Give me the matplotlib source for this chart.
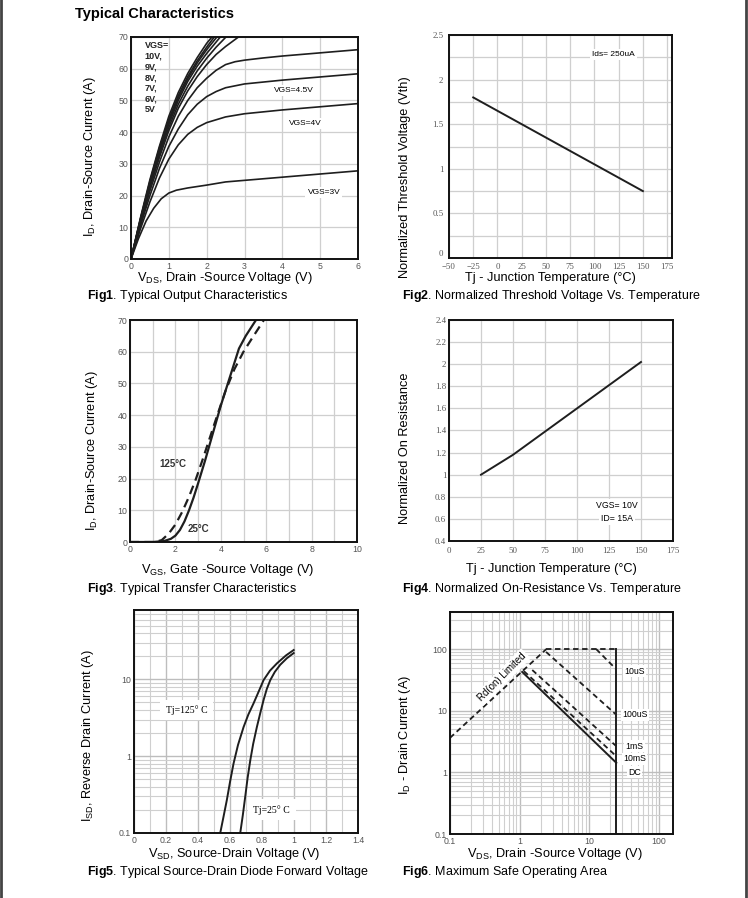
import numpy as np
import matplotlib
matplotlib.use("Agg")
import matplotlib.pyplot as plt
from matplotlib.ticker import MultipleLocator, NullFormatter, LogLocator

plt.rcParams['font.family'] = ['Liberation Sans', 'DejaVu Sans']
plt.rcParams['mathtext.fontset'] = 'custom'
plt.rcParams['mathtext.rm'] = 'Liberation Sans'
plt.rcParams['mathtext.bf'] = 'Liberation Sans:bold'

# ---- Fig1: output characteristics (VDS, ID) ----
vds_10v = [0, 0.25, 0.5, 0.75, 1.0, 1.25, 1.5, 1.75, 2.0, 2.14]
id_10v = [0, 13, 25, 35.5, 45, 52.5, 58.5, 63.5, 68, 70]
vds_9v = [0, 0.25, 0.5, 0.75, 1.0, 1.25, 1.5, 1.75, 2.0, 2.2]
id_9v = [0, 12.7, 24.5, 35, 44, 51.5, 57.5, 62.5, 66.8, 70]
vds_8v = [0, 0.25, 0.5, 0.75, 1.0, 1.25, 1.5, 1.75, 2.0, 2.27]
id_8v = [0, 12.5, 24, 34.3, 43.3, 50.8, 56.8, 61.8, 66, 70]
vds_7v = [0, 0.25, 0.5, 0.75, 1.0, 1.25, 1.5, 1.75, 2.0, 2.36]
id_7v = [0, 12.3, 23.5, 33.7, 42.5, 50, 56, 60.8, 64.8, 70]
vds_6v = [0, 0.25, 0.5, 0.75, 1.0, 1.25, 1.5, 1.75, 2.0, 2.25, 2.51]
id_6v = [0, 12, 23, 33, 41.5, 48.8, 54.5, 59.3, 63.3, 66.8, 70]
vds_5v = [0, 0.25, 0.5, 0.75, 1.0, 1.25, 1.5, 1.75, 2.0, 2.25, 2.5, 2.84]
id_5v = [0, 11.7, 22.5, 32, 40.5, 47.5, 53, 57.5, 61.3, 64.5, 67, 70]
vds_top = [0, 0.25, 0.5, 0.75, 1.0, 1.25, 1.5, 1.75, 2.0, 2.25, 2.5, 2.75, 3.0, 3.5, 4.0, 5.0, 6.0]
id_top = [0, 11, 21.5, 30.5, 38.5, 45, 50, 54, 57, 59.5, 61.3, 62.2, 62.7, 63.4, 64, 65, 66]
vds_45v = [0, 0.25, 0.5, 0.75, 1.0, 1.25, 1.5, 1.75, 2.0, 2.25, 2.5, 3.0, 3.5, 4.0, 5.0, 6.0]
id_45v = [0, 10.5, 20, 28.5, 35.5, 41, 45.5, 48.8, 51.2, 52.8, 54, 55.2, 55.8, 56.4, 57.4, 58.4]
vds_4v = [0, 0.25, 0.5, 0.75, 1.0, 1.25, 1.5, 1.75, 2.0, 2.5, 3.0, 4.0, 5.0, 6.0]
id_4v = [0, 9.5, 18, 25.5, 31.5, 36, 39.3, 41.5, 43, 44.8, 45.8, 47, 48, 49]
vds_3v = [0, 0.2, 0.4, 0.6, 0.8, 1.0, 1.2, 1.5, 2.0, 2.5, 3.0, 4.0, 5.0, 6.0]
id_3v = [0, 6.5, 12, 16, 19, 20.8, 21.7, 22.4, 23.3, 24.3, 24.8, 25.8, 26.8, 27.8]

# ---- Fig2: threshold voltage vs temperature ----
tj_vth = [-25, 150]
vth_norm = [1.8, 0.75]
fig2_xticks = [-50, -25, 0, 25, 50, 75, 100, 125, 150, 175]
fig2_yticks = [0, 0.5, 1, 1.5, 2, 2.5]
fig2_ylabels = ['0', '0.5', '1', '1.5', '2', '2.5']

# ---- Fig3: transfer characteristics ----
vgs_25c = [0, 1.0, 1.5, 1.8, 2.0, 2.2, 2.4, 2.6, 2.8, 3.0, 3.3, 3.6, 4.0, 4.4, 4.8, 5.1, 5.55]
id_25c = [0, 0, 0.3, 1.0, 2.0, 3.8, 6.5, 10, 14, 18.5, 25.5, 33, 43, 52, 61, 65, 70]
vgs_125c = [0, 1.1, 1.4, 1.7, 2.0, 2.3, 2.6, 2.9, 3.2, 3.5, 3.8, 4.2, 4.6, 5.0, 5.4, 5.9]
id_125c = [0, 0, 0.6, 2.6, 5.5, 9.5, 14.3, 19.8, 26, 32.5, 39, 47.5, 54.5, 60, 64.5, 70]

# ---- Fig4: on-resistance vs temperature ----
tj_rds = [25, 50, 75, 100, 125, 150]
rds_norm = [1.0, 1.18, 1.39, 1.60, 1.81, 2.02]
fig4_yticks = [0.4, 0.6, 0.8, 1.0, 1.2, 1.4, 1.6, 1.8, 2.0, 2.2, 2.4]
fig4_ylabels = ['0.4', '0.6', '0.8', '1', '1.2', '1.4', '1.6', '1.8', '2', '2.2', '2.4']

# ---- Fig5: diode forward voltage ----
vsd_125c = [0.539, 0.56, 0.58, 0.60, 0.622, 0.65, 0.685, 0.715, 0.747, 0.78, 0.81, 0.85, 0.894, 0.95, 0.998]
isd_125c = [0.1, 0.165, 0.267, 0.46, 0.80, 1.4, 2.4, 3.5, 4.86, 7.0, 9.8, 13, 16.2, 20.5, 24.1]
vsd_25c = [0.664, 0.68, 0.695, 0.71, 0.727, 0.745, 0.768, 0.79, 0.81, 0.83, 0.852, 0.88, 0.914, 0.955, 0.998]
isd_25c = [0.1, 0.17, 0.295, 0.52, 0.89, 1.45, 2.4, 3.7, 5.4, 7.5, 9.8, 12.5, 15.5, 18.8, 22]
fig5_xticks = [0, 0.2, 0.4, 0.6, 0.8, 1.0, 1.2, 1.4]
fig5_xlabels = ['0', '0.2', '0.4', '0.6', '0.8', '1', '1.2', '1.4']

# ---- Fig6: safe operating area ----
soa_rds_v = [0.1, 2.42]
soa_rds_i = [3.63, 100]
soa_top_v = [2.42, 24.5]
soa_top_i = [100, 100]
soa_vmax_v = [24.5, 24.5]
soa_vmax_i = [0.1, 100]
soa_10us_v = [12.6, 24.5]
soa_10us_i = [100, 47]
soa_100us_v = [2.4, 24.5]
soa_100us_i = [90, 8.6]
soa_1ms_v = [1.52, 24.5]
soa_1ms_i = [45.8, 2.66]
soa_10ms_v = [1.15, 24.5]
soa_10ms_i = [44, 1.83]
soa_dc_v = [1.09, 24.5]
soa_dc_i = [42.6, 1.43]
soa_labels = ['10uS', '100uS', '1mS', '10mS', 'DC']
soa_label_i = [44, 8.6, 2.66, 1.65, 1.0]

W, H = 748, 898
fig = plt.figure(figsize=(W / 100, H / 100), dpi=100)

LINE = '#1e1e1e'
GRID = '#cfcfcf'
TICK = '#555555'
LABEL_FS = 9.2


def px_axes(l, t, r, b):
    return fig.add_axes([l / W, 1 - b / H, (r - l) / W, (b - t) / H])


def style(ax, serif=False):
    for s in ax.spines.values():
        s.set_color('#111111')
        s.set_linewidth(1.4)
    ax.tick_params(length=0, pad=2, labelsize=6.3, labelcolor=TICK)
    ax.tick_params(which='minor', length=0)
    if serif:
        for lab in ax.get_xticklabels() + ax.get_yticklabels():
            lab.set_family('Liberation Serif')
    ax.set_axisbelow(True)


def ftext(x, y, s, **kw):
    fig.text(x / W, 1 - y / H, s, **kw)


# page frame
fig.add_artist(plt.Line2D([1 / W, 1 / W], [0, 1], color='#444444', lw=2))
fig.add_artist(plt.Line2D([1 - 2 / W, 1 - 2 / W], [0, 1], color='#444444', lw=2))

ftext(75, 14, 'Typical Characteristics', fontsize=10.5, fontweight='bold', va='center')

box = dict(facecolor='white', edgecolor='none', pad=1.5)

# Fig1
ax1 = px_axes(131, 37, 358, 259)
for xv, yv in [(vds_10v, id_10v), (vds_9v, id_9v), (vds_8v, id_8v), (vds_7v, id_7v),
               (vds_6v, id_6v), (vds_5v, id_5v), (vds_top, id_top), (vds_45v, id_45v),
               (vds_4v, id_4v), (vds_3v, id_3v)]:
    ax1.plot(xv, yv, color=LINE, lw=1.2)
ax1.set_xlim(0, 6)
ax1.set_ylim(0, 70)
ax1.xaxis.set_major_locator(MultipleLocator(1))
ax1.yaxis.set_major_locator(MultipleLocator(10))
ax1.grid(True, color=GRID, lw=0.9)
style(ax1)
ax1.text(0.36, 57.2, 'VGS=\n10V,\n9V,\n8V,\n7V,\n6V,\n5V', fontsize=6.5, fontweight='bold',
         va='center', ha='left', linespacing=1.25, color='#222222')
ax1.text(4.3, 53.2, 'VGS=4.5V', fontsize=6, ha='center', va='center', bbox=box)
ax1.text(4.6, 42.7, 'VGS=4V', fontsize=6, ha='center', va='center', bbox=box)
ax1.text(5.1, 20.9, 'VGS=3V', fontsize=6, ha='center', va='center', bbox=box)
ftext(225, 278, r'V$_{\mathrm{DS}}$, Drain -Source Voltage (V)', fontsize=LABEL_FS, ha='center', va='center')
ftext(90, 157, r'I$_{\mathrm{D}}$, Drain-Source Current (A)', fontsize=LABEL_FS, ha='center', va='center', rotation=90)
ftext(87, 296, r'$\mathbf{Fig1}$. Typical Output Characteristics', fontsize=9, va='center')

# Fig2
ax2 = px_axes(449, 35, 672, 258)
ax2.plot(tj_vth, vth_norm, color=LINE, lw=1.4)
ax2.set_xlim(-50, 180)
ax2.set_ylim(0, 2.5)
ax2.set_xticks(fig2_xticks)
ax2.set_yticks(fig2_yticks)
ax2.set_yticklabels(fig2_ylabels)
ax2.yaxis.set_minor_locator(MultipleLocator(0.25))
ax2.grid(True, which='both', color=GRID, lw=0.9)
style(ax2, serif=True)
ax2.tick_params(axis='x', pad=3.5)
ax2.tick_params(axis='y', pad=4)
ax2.get_yticklabels()[0].set_va('bottom')
ax2.text(120, 2.28, 'Ids= 250uA', fontsize=6, ha='center', va='center', bbox=box)
ftext(550, 278, 'Tj - Junction Temperature (°C)', fontsize=LABEL_FS, ha='center', va='center')
ftext(405, 177, 'Normalized Threshold Voltage (Vth)', fontsize=LABEL_FS, ha='center', va='center', rotation=90)
ftext(402, 296, r'$\mathbf{Fig2}$. Normalized Threshold Voltage Vs. Temperature', fontsize=9, va='center')

# Fig3
ax3 = px_axes(130, 320, 357, 542)
ax3.plot(vgs_25c, id_25c, color=LINE, lw=1.6)
ax3.plot(vgs_125c, id_125c, color=LINE, lw=1.6, dashes=(4, 2.5))
ax3.set_xlim(0, 10)
ax3.set_ylim(0, 70)
ax3.xaxis.set_major_locator(MultipleLocator(2))
ax3.xaxis.set_minor_locator(MultipleLocator(1))
ax3.yaxis.set_major_locator(MultipleLocator(10))
ax3.grid(True, which='both', color=GRID, lw=0.9)
style(ax3)
ax3.text(1.9, 24.7, '125°C', fontsize=7, fontweight='bold', ha='center', va='center', color='#333333')
ax3.text(3.0, 4.2, '25°C', fontsize=7, fontweight='bold', ha='center', va='center', color='#333333')
ftext(228, 570, r'V$_{\mathrm{GS}}$, Gate -Source Voltage (V)', fontsize=LABEL_FS, ha='center', va='center')
ftext(92, 451, r'I$_{\mathrm{D}}$, Drain-Source Current (A)', fontsize=LABEL_FS, ha='center', va='center', rotation=90)
ftext(87, 589, r'$\mathbf{Fig3}$. Typical Transfer Characteristics', fontsize=9, va='center')

# Fig4
ax4 = px_axes(449, 320, 673, 541)
ax4.plot(tj_rds, rds_norm, color=LINE, lw=1.4)
ax4.set_xlim(0, 175)
ax4.set_ylim(0.4, 2.4)
ax4.xaxis.set_major_locator(MultipleLocator(25))
ax4.set_yticks(fig4_yticks)
ax4.set_yticklabels(fig4_ylabels)
ax4.grid(True, color=GRID, lw=0.9)
style(ax4, serif=True)
ax4.tick_params(axis='x', pad=4)
ax4.text(131, 0.72, 'VGS= 10V', fontsize=6.3, ha='center', va='center', bbox=box)
ax4.text(131, 0.60, 'ID= 15A', fontsize=6.3, ha='center', va='center', bbox=box)
ftext(551, 569, 'Tj - Junction Temperature (°C)', fontsize=LABEL_FS, ha='center', va='center')
ftext(405, 448, 'Normalized On Resistance', fontsize=LABEL_FS, ha='center', va='center', rotation=90)
ftext(402, 589, r'$\mathbf{Fig4}$. Normalized On-Resistance Vs. Temperature', fontsize=9, va='center')

# Fig5
ax5 = px_axes(134, 610, 358, 833)
ax5.plot(vsd_125c, isd_125c, color=LINE, lw=1.4)
ax5.plot(vsd_25c, isd_25c, color=LINE, lw=1.4)
ax5.set_yscale('log')
ax5.set_xlim(0, 1.4)
ax5.set_ylim(0.1, 80)
ax5.set_xticks(fig5_xticks)
ax5.set_xticklabels(fig5_xlabels)
ax5.xaxis.set_minor_locator(MultipleLocator(0.1))
ax5.set_yticks([0.1, 1, 10])
ax5.set_yticklabels(['0.1', '1', '10'])
ax5.yaxis.set_minor_locator(LogLocator(base=10, subs=np.arange(2, 10)))
ax5.yaxis.set_minor_formatter(NullFormatter())
ax5.grid(True, which='major', color='#bdbdbd', lw=1.0)
ax5.grid(True, which='minor', color=GRID, lw=0.8)
style(ax5)
ax5.text(0.33, 4.0, 'Tj=125° C', fontsize=7, family='Liberation Serif', ha='center', va='center',
         bbox=dict(facecolor='white', edgecolor='none', pad=4))
ax5.text(0.86, 0.2, 'Tj=25° C', fontsize=7, family='Liberation Serif', ha='center', va='center',
         bbox=dict(facecolor='white', edgecolor='none', pad=4))
ftext(234, 854, r'V$_{\mathrm{SD}}$, Source-Drain Voltage (V)', fontsize=LABEL_FS, ha='center', va='center')
ftext(88, 736, r'I$_{\mathrm{SD}}$, Reverse Drain Current (A)', fontsize=LABEL_FS, ha='center', va='center', rotation=90)
ftext(87, 872, r'$\mathbf{Fig5}$. Typical Source-Drain Diode Forward Voltage', fontsize=9, va='center')

# Fig6
ax6 = px_axes(450, 612, 673, 834)
ax6.set_xscale('log')
ax6.set_yscale('log')
ax6.plot(soa_rds_v, soa_rds_i, color=LINE, lw=1.3, dashes=(3, 2))
ax6.plot(soa_top_v, soa_top_i, color=LINE, lw=1.3, dashes=(3, 2))
ax6.plot(soa_vmax_v, soa_vmax_i, color=LINE, lw=1.4)
ax6.plot(soa_10us_v, soa_10us_i, color=LINE, lw=1.3, dashes=(3, 2))
ax6.plot(soa_100us_v, soa_100us_i, color=LINE, lw=1.3, dashes=(3, 2))
ax6.plot(soa_1ms_v, soa_1ms_i, color=LINE, lw=1.3, dashes=(3, 2))
ax6.plot(soa_10ms_v, soa_10ms_i, color=LINE, lw=1.3, dashes=(3, 2))
ax6.plot(soa_dc_v, soa_dc_i, color=LINE, lw=1.4)
ax6.set_xlim(0.1, 160)
ax6.set_ylim(0.1, 400)
ax6.set_xticks([0.1, 1, 10, 100])
ax6.set_xticklabels(['0.1', '1', '10', '100'])
ax6.set_yticks([0.1, 1, 10, 100])
ax6.set_yticklabels(['0.1', '1', '10', '100'])
for axis in (ax6.xaxis, ax6.yaxis):
    axis.set_minor_locator(LogLocator(base=10, subs=np.arange(2, 10)))
    axis.set_minor_formatter(NullFormatter())
ax6.grid(True, which='major', color='#bdbdbd', lw=1.0)
ax6.grid(True, which='minor', color=GRID, lw=0.8)
style(ax6)
for lab, yv in zip(soa_labels, soa_label_i):
    ax6.text(45, yv, lab, fontsize=6.3, ha='center', va='center',
             bbox=dict(facecolor='white', edgecolor='none', pad=1))
ax6.text(0.56, 35, 'Rd(on) Limited', fontsize=7, ha='center', va='center', rotation=45,
         bbox=dict(facecolor='white', edgecolor='none', pad=1.5))
ftext(555, 854, r'V$_{\mathrm{DS}}$, Drain -Source Voltage (V)', fontsize=LABEL_FS, ha='center', va='center')
ftext(405, 735, r'I$_{\mathrm{D}}$ - Drain Current (A)', fontsize=LABEL_FS, ha='center', va='center', rotation=90)
ftext(402, 872, r'$\mathbf{Fig6}$. Maximum Safe Operating Area', fontsize=9, va='center')

fig.savefig('out.png', dpi=100, facecolor='white')
